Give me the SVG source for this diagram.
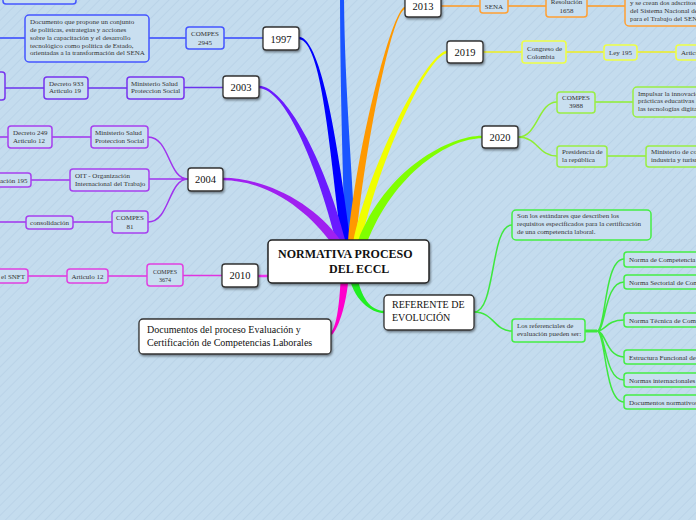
<svg xmlns="http://www.w3.org/2000/svg" width="696" height="520" viewBox="0 0 696 520">
<defs>
<pattern id="bg" width="7" height="7" patternUnits="userSpaceOnUse" patternTransform="rotate(45)">
<rect width="7" height="7" fill="#c4dcee"/>
<line x1="0" y1="0" x2="0" y2="7" stroke="#bad3e8" stroke-width="2"/>
</pattern>
<filter id="sh" x="-20%" y="-20%" width="140%" height="150%">
<feDropShadow dx="1" dy="1.5" stdDeviation="0.8" flood-color="#000" flood-opacity="0.45"/>
</filter>
</defs>
<style>
.yr rect{fill:#fff;stroke:#333;stroke-width:1.3;filter:url(#sh)}
.yr text{font-family:"Liberation Serif",serif;font-size:10.5px;fill:#111;text-anchor:middle}
.c rect{fill:#c9dff0;stroke-width:1.5}
.c text{font-family:"Liberation Serif",serif;font-size:7px;fill:#333}
.m{text-anchor:middle}
.ln{fill:none;stroke-width:1.5}
.b1{stroke:#3344ff}
.b3{stroke:#6a33ee}
.b4{stroke:#a033ee}
.b10{stroke:#e033e0}
.b13{stroke:#ff9922}
.b19{stroke:#eeee22}
.b20{stroke:#8fee33}
.bg{stroke:#3ee83e}
</style>
<rect width="696" height="520" fill="url(#bg)"/>

<g id="connectors">
<!-- main branches -->
<path d="M344,-10 C344,80 353,180 355,242 L345,242 C343,180 340,80 340,-10 Z" fill="#1a55ff"/>
<path d="M299,36.8 C322,38.8 338.5,149.4 350.5,241.4 L341.5,242.6 C329.5,150.6 322,41.2 299,39.2 Z" fill="#0000ff"/>
<path d="M259,85.8 C285,86.8 324.4,158.9 345.4,240.9 L336.6,243.1 C315.6,161.1 285,89.2 259,88.2 Z" fill="#6a1bff"/>
<path d="M223,177.8 C265,177.8 313.7,202.4 340.7,240.4 L333.3,245.6 C306.3,207.6 265,180.2 223,180.2 Z" fill="#a020f0"/>
<path d="M405,9.2 C392,11.2 364,150.3 356,242.3 L348,241.7 C356,149.7 392,8.8 405,6.8 Z" fill="#ff9900"/>
<path d="M447.1,53.2 C425.1,56.2 375.9,170.8 360.9,243.8 L353.1,242.2 C368.1,169.2 424.9,53.8 446.9,50.8 Z" fill="#f0ff00"/>
<path d="M482,138.2 C450,138.2 394.2,171.6 366.2,244.6 L357.8,241.4 C385.8,168.4 450,135.8 482,135.8 Z" fill="#80ff00"/>
<path d="M384,313.2 C372,313.2 352,300.5 348,270.5 L356,269.5 C360,299.5 372,310.8 384,310.8 Z" fill="#22ee22"/>
<path d="M330.2,333.1 C337.2,327.1 340,299.9 341,269.9 L349,270.1 C348,300.1 338.8,328.9 331.8,334.9 Z" fill="#ff00cc"/>
<line x1="258" y1="276" x2="270" y2="276" stroke="#ee33ee" stroke-width="2.5"/>

<!-- 1997 -->
<path class="ln b1" d="M263,38 H224 M186,38 H149 M25,38 H0"/>
<!-- 2003 -->
<path class="ln b3" d="M223,87.5 H184 M127,88 H88 M44,88 H5"/>
<!-- 2004 -->
<path class="ln b4" d="M188,179 C168,179 170,137 148,137 M188,179 H149 M188,179 C168,179 170,222 148,222 M91,137 H52 M8,137 H0 M70,180 H31 M112,222 H73 M26,222 H0"/>
<!-- 2010 -->
<path class="ln b10" d="M222,275.5 H183 M147,276 H108 M67,276 H28"/>
<!-- 2013 -->
<path class="ln b13" d="M441,6 H480 M508,6 H546 M587,6 H625"/>
<!-- 2019 -->
<path class="ln b19" d="M483,52 H522 M566,52 H604 M637,52 H676"/>
<!-- 2020 -->
<path class="ln b20" d="M518,137 C538,137 538,102 557,102 M518,137 C538,137 538,156 557,156 M595,102 H633 M607,156 H646"/>
<!-- referente -->
<path class="ln bg" d="M474,312 C496,312 490,225 512,225 M474,312 C494,312 494,331 512,331"/>
<path fill="none" stroke="#3ee83e" stroke-width="3" d="M585,331 H597"/>
<path class="ln bg" d="M597,331 C606,331 604,259 624,259 M597,331 C606,331 604,282 624,282 M597,331 C606,331 606,320 624,320 M597,331 C606,331 606,357 624,357 M597,331 C606,331 604,380 624,380 M597,331 C606,331 604,402 624,402"/>
</g>

<!-- central -->
<g id="center" class="yr">
<rect x="268" y="240" width="161" height="43" rx="4" style="stroke:#222;stroke-width:1.5"/>
<text x="278" y="258" style="font-weight:bold;font-size:12px;text-anchor:start">NORMATIVA PROCESO</text>
<text x="329" y="273" style="font-weight:bold;font-size:12px;text-anchor:start">DEL ECCL</text>
</g>
<g id="referente" class="yr">
<rect x="384" y="295" width="90" height="35" rx="4"/>
<text x="392" y="308" style="text-anchor:start;font-size:10px">REFERENTE DE</text>
<text x="392" y="321" style="text-anchor:start;font-size:10px">EVOLUCIÓN</text>
</g>
<g id="documentos" class="yr">
<rect x="139" y="319" width="192" height="35" rx="4"/>
<text x="147" y="333" style="text-anchor:start;font-size:10px">Documentos del proceso Evaluación y</text>
<text x="147" y="346" style="text-anchor:start;font-size:10px">Certificación de Competencias Laborales</text>
</g>

<!-- years -->
<g id="y1997" class="yr"><rect x="263" y="27" width="36" height="23" rx="3"/><text x="281" y="42.5">1997</text></g>
<g id="y2003" class="yr"><rect x="223" y="76" width="36" height="22" rx="3"/><text x="241" y="91">2003</text></g>
<g id="y2004" class="yr"><rect x="188" y="168" width="35" height="23" rx="3"/><text x="205.5" y="183">2004</text></g>
<g id="y2010" class="yr"><rect x="222" y="264" width="36" height="23" rx="3"/><text x="240" y="279">2010</text></g>
<g id="y2013" class="yr"><rect x="405" y="-6" width="36" height="23" rx="3"/><text x="423" y="9.5">2013</text></g>
<g id="y2019" class="yr"><rect x="447" y="41" width="36" height="22" rx="3"/><text x="465" y="56">2019</text></g>
<g id="y2020" class="yr"><rect x="482" y="126" width="36" height="22" rx="3"/><text x="500" y="141">2020</text></g>

<!-- 1997 children -->
<g id="n1997top" class="c"><rect x="3" y="-20" width="73" height="24" rx="3" stroke="#4455ff"/></g>
<g id="compes2945" class="c"><rect x="186" y="27" width="38" height="22" rx="3" stroke="#4455ff"/>
<text class="m" x="205" y="36">COMPES</text><text class="m" x="205" y="44.5">2945</text></g>
<g id="documento" class="c"><rect x="25" y="15" width="124" height="47" rx="4" stroke="#4455ff"/>
<text x="30" y="24">Documento que propone un conjunto</text>
<text x="30" y="32">de políticas, estrategias y acciones</text>
<text x="30" y="39.5">sobre la  capacitación  y  el desarrollo</text>
<text x="30" y="47.5">tecnológico como  política  de  Estado,</text>
<text x="30" y="55">orientadas a la transformación del SENA</text></g>

<!-- 2003 children -->
<g id="min2003" class="c"><rect x="127" y="77" width="57" height="22" rx="3" stroke="#7733ee"/>
<text x="131" y="85.5">Ministerio Salud</text><text x="131" y="93">Proteccion Social</text></g>
<g id="dec933" class="c"><rect x="44" y="77" width="44" height="22" rx="3" stroke="#7733ee"/>
<text x="49" y="85.5">Decreto 933</text><text x="49" y="93">Articulo 19</text></g>
<g id="left2003" class="c"><rect x="-40" y="72" width="45" height="28" rx="3" stroke="#7733ee"/></g>

<!-- 2004 children -->
<g id="min2004" class="c"><rect x="91" y="126" width="57" height="22" rx="3" stroke="#a640ee"/>
<text x="95" y="135">Ministerio Salud</text><text x="95" y="143">Proteccion Social</text></g>
<g id="dec249" class="c"><rect x="8" y="126" width="44" height="22" rx="3" stroke="#a640ee"/>
<text x="13" y="135">Decreto 249</text><text x="13" y="143">Articulo 12</text></g>
<g id="oit" class="c"><rect x="70" y="169" width="79" height="22" rx="3" stroke="#a640ee"/>
<text x="75" y="177.5">OIT - Organización</text><text x="75" y="186">Internacional del Trabajo</text></g>
<g id="rec195" class="c"><rect x="-40" y="173" width="71" height="14" rx="3" stroke="#a640ee"/>
<text x="0" y="182.5">ación 195</text></g>
<g id="consol" class="c"><rect x="26" y="216" width="47" height="13" rx="3" stroke="#a640ee"/>
<text class="m" x="49.5" y="225">consolidación</text></g>
<g id="compes81" class="c"><rect x="112" y="211" width="36" height="22" rx="3" stroke="#a640ee"/>
<text class="m" x="130" y="220">COMPES</text><text class="m" x="130" y="228.5">81</text></g>

<!-- 2010 children -->
<g id="compes3674" class="c"><rect x="147" y="264" width="36" height="22" rx="3" stroke="#e040e0"/>
<text class="m" x="165" y="274" style="font-size:6px">COMPES</text><text class="m" x="165" y="282" style="font-size:6px">3674</text></g>
<g id="art12" class="c"><rect x="67" y="269" width="41" height="14" rx="3" stroke="#e040e0"/>
<text class="m" x="87.5" y="278.5">Articulo 12</text></g>
<g id="snft" class="c"><rect x="-40" y="269" width="68" height="14" rx="3" stroke="#e040e0"/>
<text x="25" y="278.5" style="text-anchor:end">el SNFT</text></g>

<!-- 2013 children -->
<g id="sena" class="c"><rect x="480" y="-6" width="28" height="19" rx="3" stroke="#ffa033"/>
<text class="m" x="494" y="8.5">SENA</text></g>
<g id="res1658" class="c"><rect x="546" y="-8" width="41" height="25" rx="3" stroke="#ffa033"/>
<text class="m" x="566.5" y="4">Resolución</text><text class="m" x="566.5" y="12.5">1658</text></g>
<g id="adscritos" class="c"><rect x="625" y="-20" width="80" height="46" rx="4" stroke="#ffa033"/>
<text x="630" y="4.7">y se crean dos adscritos</text><text x="630" y="12.7">del Sistema Nacional de</text><text x="630" y="20.7">para el Trabajo del SENA</text></g>

<!-- 2019 children -->
<g id="congreso" class="c"><rect x="522" y="41" width="44" height="22" rx="3" stroke="#eeff44"/>
<text x="527" y="50.5">Congreso de</text><text x="527" y="58.5">Colombia</text></g>
<g id="ley195" class="c"><rect x="604" y="45" width="33" height="15" rx="3" stroke="#eeff44"/>
<text class="m" x="620.5" y="55">Ley 195</text></g>
<g id="articulo" class="c"><rect x="676" y="45" width="40" height="15" rx="3" stroke="#eeff44"/>
<text x="681" y="55">Artículo</text></g>

<!-- 2020 children -->
<g id="compes3988" class="c"><rect x="557" y="92" width="38" height="21" rx="3" stroke="#99ee44"/>
<text class="m" x="576" y="100">COMPES</text><text class="m" x="576" y="107.5">3988</text></g>
<g id="impulsar" class="c"><rect x="633" y="87" width="80" height="30" rx="4" stroke="#99ee44"/>
<text x="638" y="96">Impulsar la innovación</text><text x="638" y="103.3">prácticas educativas a</text><text x="638" y="110.7">las tecnologías digitales</text></g>
<g id="presidencia" class="c"><rect x="557" y="146" width="50" height="21" rx="3" stroke="#99ee44"/>
<text x="562" y="153.5">Presidencia de</text><text x="562" y="161.5">la república</text></g>
<g id="mincomercio" class="c"><rect x="646" y="146" width="70" height="21" rx="3" stroke="#99ee44"/>
<text x="651" y="153.5">Ministerio de comercio,</text><text x="651" y="161.5">industria y turismo</text></g>

<!-- referente children -->
<g id="son" class="c"><rect x="512" y="210" width="139" height="30" rx="4" stroke="#44ee44"/>
<text x="517" y="217.5">Son  los  estándares  que describen  los</text>
<text x="517" y="226">requisitos especificados para  la  certificación</text>
<text x="517" y="234">de una competencia laboral.</text></g>
<g id="losref" class="c"><rect x="512" y="319" width="73" height="23" rx="3" stroke="#44ee44"/>
<text x="517" y="327.5">Los referenciales de</text><text x="517" y="336">evaluación pueden ser:</text></g>
<g id="r1" class="c"><rect x="624" y="252" width="90" height="15" rx="3" stroke="#44ee44"/><text x="629" y="262">Norma de Competencia</text></g>
<g id="r2" class="c"><rect x="624" y="275" width="90" height="14" rx="3" stroke="#44ee44"/><text x="629" y="284.5">Norma Sectorial de Competencia</text></g>
<g id="r3" class="c"><rect x="624" y="313" width="90" height="14" rx="3" stroke="#44ee44"/><text x="629" y="322.5">Norma Técnica de Competencia</text></g>
<g id="r4" class="c"><rect x="624" y="350" width="90" height="14" rx="3" stroke="#44ee44"/><text x="629" y="359.5">Estructura Funcional de</text></g>
<g id="r5" class="c"><rect x="624" y="373" width="90" height="14" rx="3" stroke="#44ee44"/><text x="629" y="382.5">Normas internacionales</text></g>
<g id="r6" class="c"><rect x="624" y="395" width="90" height="14" rx="3" stroke="#44ee44"/><text x="629" y="404.5">Documentos normativos</text></g>
</svg>
